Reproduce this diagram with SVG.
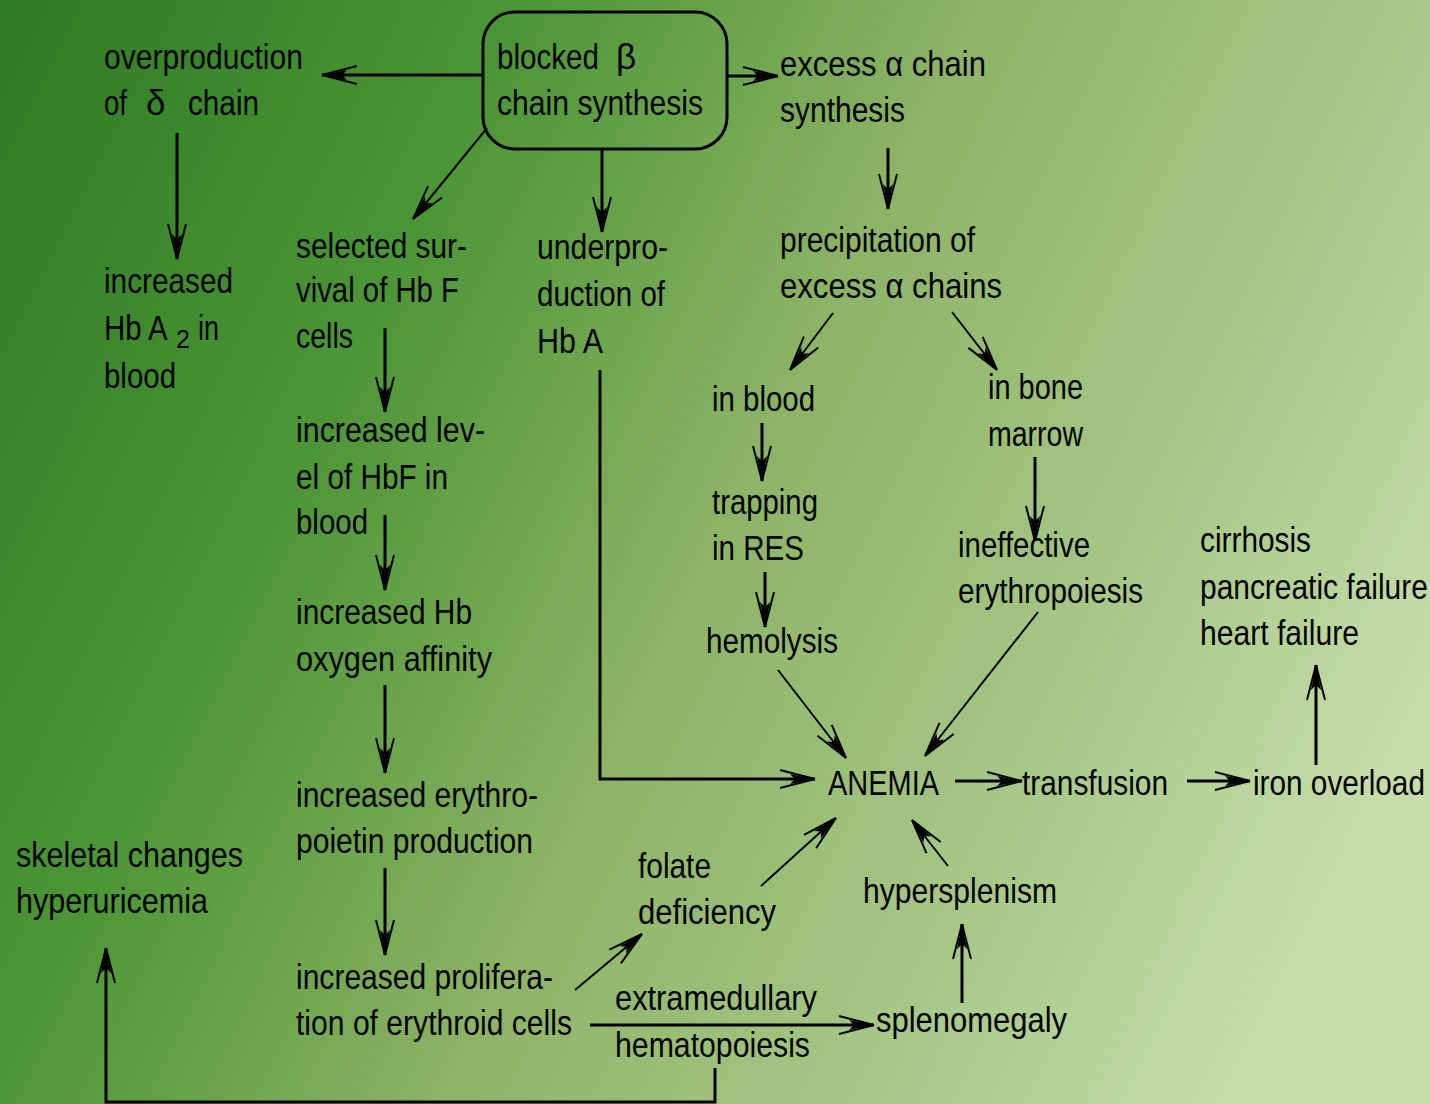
<svg xmlns="http://www.w3.org/2000/svg" width="1430" height="1104" viewBox="0 0 1430 1104">
<defs>
<linearGradient id="bg" gradientUnits="userSpaceOnUse" x1="0" y1="0" x2="1430" y2="700">
<stop offset="0" stop-color="#2c7a22"/>
<stop offset="0.3" stop-color="#4c9636"/>
<stop offset="0.55" stop-color="#8db365"/>
<stop offset="0.8" stop-color="#a8c888"/>
<stop offset="1" stop-color="#c6ddaa"/>
</linearGradient>
<marker id="ah" markerUnits="userSpaceOnUse" markerWidth="40" markerHeight="24" refX="38" refY="12" orient="auto" overflow="visible">
<path d="M38,12 L13,7 L18,12 L13,17 Z" fill="#000"/>
<path d="M38,12 L3,3 M38,12 L3,21" stroke="#000" stroke-width="2" fill="none"/>
</marker>
<style>
text{font-family:"Liberation Sans",Arial,sans-serif;font-size:35px;fill:#000}
.sub{font-size:25px}
.c path{fill:none;stroke:#000;stroke-width:3;marker-end:url(#ah)}
.c path.d{stroke-width:2}
</style>
</defs>
<rect width="1430" height="1104" fill="url(#bg)"/>

<g id="connectors" class="c">
<path d="M483,75 H322"/>
<path class="d" d="M487,128 L413,219"/>
<path d="M602,150 V232"/>
<path d="M727,76 H778"/>
<path d="M888,148 V209"/>
<path d="M177,133 V259"/>
<path d="M385,328 V412"/>
<path d="M385,515 V590"/>
<path d="M385,685 V773"/>
<path d="M385,868 V955"/>
<path d="M600,370 V779 H815"/>
<path class="d" d="M833,313 L790,370"/>
<path class="d" d="M952,312 L997,370"/>
<path d="M762,423 V481"/>
<path d="M765,572 V627"/>
<path d="M1035,457 V541"/>
<path class="d" d="M778,670 L846,758"/>
<path class="d" d="M1038,612 L925,756"/>
<path d="M955,781 H1022"/>
<path d="M1187,781 H1250"/>
<path d="M1316,765 V665"/>
<path class="d" d="M575,990 L642,934"/>
<path class="d" d="M761,886 L836,818"/>
<path class="d" d="M948,866 L912,820"/>
<path d="M962,1003 V924"/>
<path d="M590,1025 H874"/>
<path d="M715,1068 V1102 H106 V948"/>
</g>

<g id="blocked">
<rect x="483" y="12" width="244" height="137" rx="32" fill="none" stroke="#000" stroke-width="3"/>
<text x="497" y="69"><tspan textLength="102" lengthAdjust="spacingAndGlyphs">blocked</tspan><tspan x="616">β</tspan></text>
<text x="497" y="115" textLength="206" lengthAdjust="spacingAndGlyphs">chain synthesis</text>
</g>

<g id="overproduction">
<text x="104" y="69" textLength="199" lengthAdjust="spacingAndGlyphs">overproduction</text>
<text x="104" y="115"><tspan textLength="23" lengthAdjust="spacingAndGlyphs">of</tspan><tspan x="146">δ</tspan><tspan x="188" textLength="71" lengthAdjust="spacingAndGlyphs">chain</tspan></text>
</g>

<g id="hba2">
<text x="104" y="293" textLength="129" lengthAdjust="spacingAndGlyphs">increased</text>
<text transform="translate(104,340) scale(0.84,1)">Hb A</text>
<text class="sub" x="176" y="348">2</text>
<text x="198" y="340" textLength="21" lengthAdjust="spacingAndGlyphs">in</text>
<text x="104" y="388" textLength="72" lengthAdjust="spacingAndGlyphs">blood</text>
</g>

<g id="excess">
<text x="780" y="76" textLength="206" lengthAdjust="spacingAndGlyphs">excess α chain</text>
<text x="780" y="122" textLength="125" lengthAdjust="spacingAndGlyphs">synthesis</text>
</g>

<g id="precipitation">
<text x="780" y="252" textLength="195" lengthAdjust="spacingAndGlyphs">precipitation of</text>
<text x="780" y="298" textLength="222" lengthAdjust="spacingAndGlyphs">excess α chains</text>
</g>

<g id="selected">
<text x="296" y="258" textLength="171" lengthAdjust="spacingAndGlyphs">selected sur-</text>
<text x="296" y="302" textLength="163" lengthAdjust="spacingAndGlyphs">vival of Hb F</text>
<text x="296" y="348" textLength="57" lengthAdjust="spacingAndGlyphs">cells</text>
</g>

<g id="underproduction">
<text x="537" y="259" textLength="131" lengthAdjust="spacingAndGlyphs">underpro-</text>
<text x="537" y="306" textLength="128" lengthAdjust="spacingAndGlyphs">duction of</text>
<text x="537" y="353" textLength="66" lengthAdjust="spacingAndGlyphs">Hb A</text>
</g>

<g id="inblood">
<text x="712" y="411" textLength="103" lengthAdjust="spacingAndGlyphs">in blood</text>
</g>

<g id="inbone">
<text x="988" y="399" textLength="95" lengthAdjust="spacingAndGlyphs">in bone</text>
<text x="988" y="446" textLength="95" lengthAdjust="spacingAndGlyphs">marrow</text>
</g>

<g id="hbf">
<text x="296" y="442" textLength="189" lengthAdjust="spacingAndGlyphs">increased lev-</text>
<text x="296" y="489" textLength="152" lengthAdjust="spacingAndGlyphs">el of HbF in</text>
<text x="296" y="534" textLength="72" lengthAdjust="spacingAndGlyphs">blood</text>
</g>

<g id="trapping">
<text x="712" y="514" textLength="106" lengthAdjust="spacingAndGlyphs">trapping</text>
<text x="712" y="560" textLength="92" lengthAdjust="spacingAndGlyphs">in RES</text>
</g>

<g id="ineffective">
<text x="958" y="557" textLength="132" lengthAdjust="spacingAndGlyphs">ineffective</text>
<text x="958" y="603" textLength="185" lengthAdjust="spacingAndGlyphs">erythropoiesis</text>
</g>

<g id="cirrhosis">
<text x="1200" y="552" textLength="111" lengthAdjust="spacingAndGlyphs">cirrhosis</text>
<text transform="translate(1200,599) scale(0.855,1)">pancreatic failure</text>
<text x="1200" y="645" textLength="159" lengthAdjust="spacingAndGlyphs">heart failure</text>
</g>

<g id="affinity">
<text x="296" y="624" textLength="176" lengthAdjust="spacingAndGlyphs">increased Hb</text>
<text x="296" y="671" textLength="196" lengthAdjust="spacingAndGlyphs">oxygen affinity</text>
</g>

<g id="hemolysis">
<text x="706" y="653" textLength="132" lengthAdjust="spacingAndGlyphs">hemolysis</text>
</g>

<g id="anemia">
<text x="828" y="795" textLength="111" lengthAdjust="spacingAndGlyphs">ANEMIA</text>
</g>

<g id="transfusion">
<text x="1022" y="795" textLength="146" lengthAdjust="spacingAndGlyphs">transfusion</text>
</g>

<g id="ironoverload">
<text transform="translate(1253,795) scale(0.85,1)">iron overload</text>
</g>

<g id="erythropoietin">
<text x="296" y="807" textLength="242" lengthAdjust="spacingAndGlyphs">increased erythro-</text>
<text x="296" y="853" textLength="237" lengthAdjust="spacingAndGlyphs">poietin production</text>
</g>

<g id="skeletal">
<text x="16" y="867" textLength="227" lengthAdjust="spacingAndGlyphs">skeletal changes</text>
<text x="16" y="913" textLength="192" lengthAdjust="spacingAndGlyphs">hyperuricemia</text>
</g>

<g id="folate">
<text x="638" y="878" textLength="73" lengthAdjust="spacingAndGlyphs">folate</text>
<text x="638" y="924" textLength="138" lengthAdjust="spacingAndGlyphs">deficiency</text>
</g>

<g id="hypersplenism">
<text x="863" y="903" textLength="194" lengthAdjust="spacingAndGlyphs">hypersplenism</text>
</g>

<g id="proliferation">
<text x="296" y="989" textLength="257" lengthAdjust="spacingAndGlyphs">increased prolifera-</text>
<text x="296" y="1035" textLength="276" lengthAdjust="spacingAndGlyphs">tion of erythroid cells</text>
</g>

<g id="extramedullary">
<text x="615" y="1010" textLength="202" lengthAdjust="spacingAndGlyphs">extramedullary</text>
<text x="615" y="1057" textLength="195" lengthAdjust="spacingAndGlyphs">hematopoiesis</text>
</g>

<g id="splenomegaly">
<text x="876" y="1032" textLength="191" lengthAdjust="spacingAndGlyphs">splenomegaly</text>
</g>
</svg>
